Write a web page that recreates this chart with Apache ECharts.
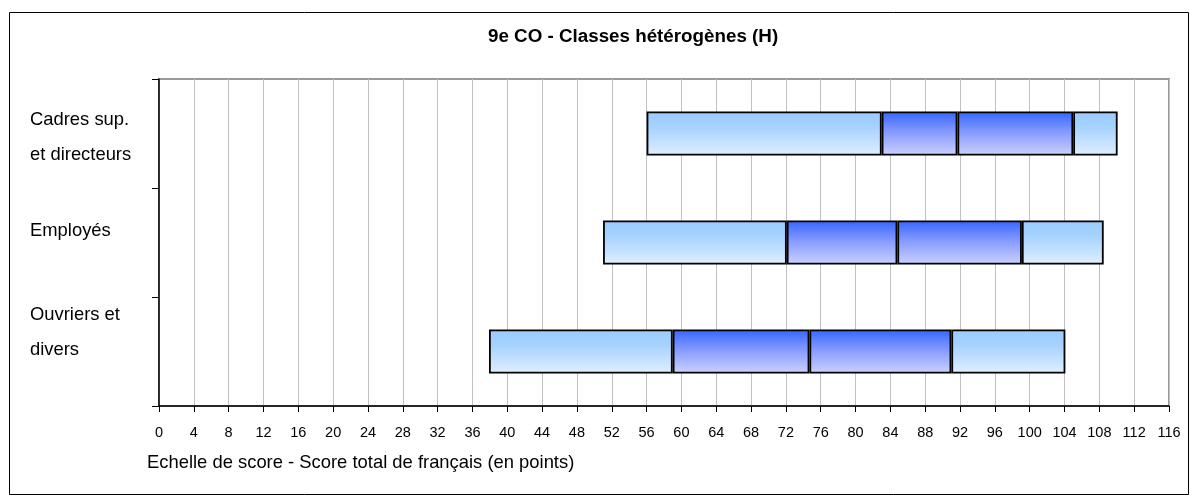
<!DOCTYPE html>
<html>
<head>
<meta charset="utf-8">
<script src="https://cdn.jsdelivr.net/npm/echarts@6/dist/echarts.min.js"></script>
<style>
  html, body { margin: 0; padding: 0; background: #fff; }
  #chart { width: 1190px; height: 495px; }
</style>
</head>
<body>
<div id="chart"></div>
<script>
// Categories, top to bottom
const categories = ['Cadres sup.\net directeurs', 'Employés', 'Ouvriers et\ndivers'];
// Score percentiles
const p5     = [56.0, 51.0, 37.9];
const p25    = [83.0, 72.1, 59.0];
const median = [91.7, 84.8, 74.7];
const p75    = [105.0, 99.1, 91.0];
const p95    = [110.1, 108.5, 104.1];
const xTicks = { min: 0, max: 116, interval: 4 };

const titleText = '9e CO - Classes hétérogènes (H)';
const xAxisTitle = 'Echelle de score - Score total de français (en points)';

const FONT = '"Liberation Sans", Arial, sans-serif';

const lightGrad = new echarts.graphic.LinearGradient(0, 0, 0, 1, [
  { offset: 0, color: '#99CCFF' },
  { offset: 0.35, color: '#A6D2FF' },
  { offset: 1, color: '#E0EFFF' }
]);
const darkGrad = new echarts.graphic.LinearGradient(0, 0, 0, 1, [
  { offset: 0, color: '#3366FF' },
  { offset: 0.45, color: '#8499FF' },
  { offset: 1, color: '#CCD2FF' }
]);

const diff = (a, b) => a.map((v, i) => +(v - b[i]).toFixed(2));

function seg(name, data, grad) {
  return {
    name, type: 'bar', stack: 'box', data, barWidth: 44,
    itemStyle: { color: grad, borderColor: '#000', borderWidth: 1.8 },
    emphasis: { disabled: true }, silent: true
  };
}

// spacer lines (before/after) that nudge each category label vertically
const spacerBefore = [7, 0, 0];
const spacerAfter  = [0, 24, 38];
const rich = { t: { width: 112, align: 'left', lineHeight: 35, fontSize: 18.4, fontFamily: FONT, color: '#000' } };
spacerBefore.concat(spacerAfter).forEach(h => {
  if (h > 0) rich['g' + h] = { lineHeight: h, fontSize: 1, width: 112 };
});

const option = {
  animation: false,
  backgroundColor: '#fff',
  grid: {
    left: 159, right: 21, top: 79, bottom: 89,
    containLabel: false, outerBoundsMode: 'none',
    show: true, borderColor: '#9a9a9a', borderWidth: 2, backgroundColor: 'transparent'
  },
  xAxis: {
    type: 'value', min: xTicks.min, max: xTicks.max, interval: xTicks.interval,
    axisLine: { show: true, lineStyle: { color: '#000', width: 1.5 } },
    axisTick: { show: true, length: 6, lineStyle: { color: '#000', width: 1 } },
    axisLabel: { color: '#000', fontFamily: FONT, fontSize: 14.5, margin: 19 },
    splitLine: { show: true, lineStyle: { color: '#c0c0c0', width: 1 } }
  },
  yAxis: {
    type: 'category', inverse: true,
    data: categories,
    axisLine: { show: true, lineStyle: { color: '#000', width: 1.5 } },
    axisTick: { show: true, length: 7, lineStyle: { color: '#000', width: 1 } },
    axisLabel: {
      align: 'right', margin: 17,
      formatter: (v, i) => {
        const lines = v.split('\n').map(l => '{t|' + l + '}');
        if (spacerBefore[i] > 0) lines.unshift('{g' + spacerBefore[i] + '| }');
        if (spacerAfter[i] > 0) lines.push('{g' + spacerAfter[i] + '| }');
        return lines.join('\n');
      },
      rich
    },
    splitLine: { show: false }
  },
  graphic: [
    {
      type: 'rect', silent: true, z: -1,
      shape: { x: 9.5, y: 12.5, width: 1179, height: 482 },
      style: { fill: 'none', stroke: '#000', lineWidth: 1 }
    },
    {
      type: 'text', left: 488, top: 27, silent: true,
      style: { text: titleText, fill: '#000', font: 'bold 18.8px ' + FONT }
    },
    {
      type: 'text', left: 147, top: 454, silent: true,
      style: { text: xAxisTitle, fill: '#000', font: '18.4px ' + FONT }
    }
  ],
  series: [
    {
      name: 'base', type: 'bar', stack: 'box', data: p5, barWidth: 44,
      itemStyle: { color: 'transparent' }, silent: true, emphasis: { disabled: true }
    },
    seg('P5-P25', diff(p25, p5), lightGrad),
    seg('P25-Médiane', diff(median, p25), darkGrad),
    seg('Médiane-P75', diff(p75, median), darkGrad),
    seg('P75-P95', diff(p95, p75), lightGrad)
  ]
};

const chart = echarts.init(document.getElementById('chart'), null, { renderer: 'canvas' });
chart.setOption(option);
</script>
</body>
</html>
